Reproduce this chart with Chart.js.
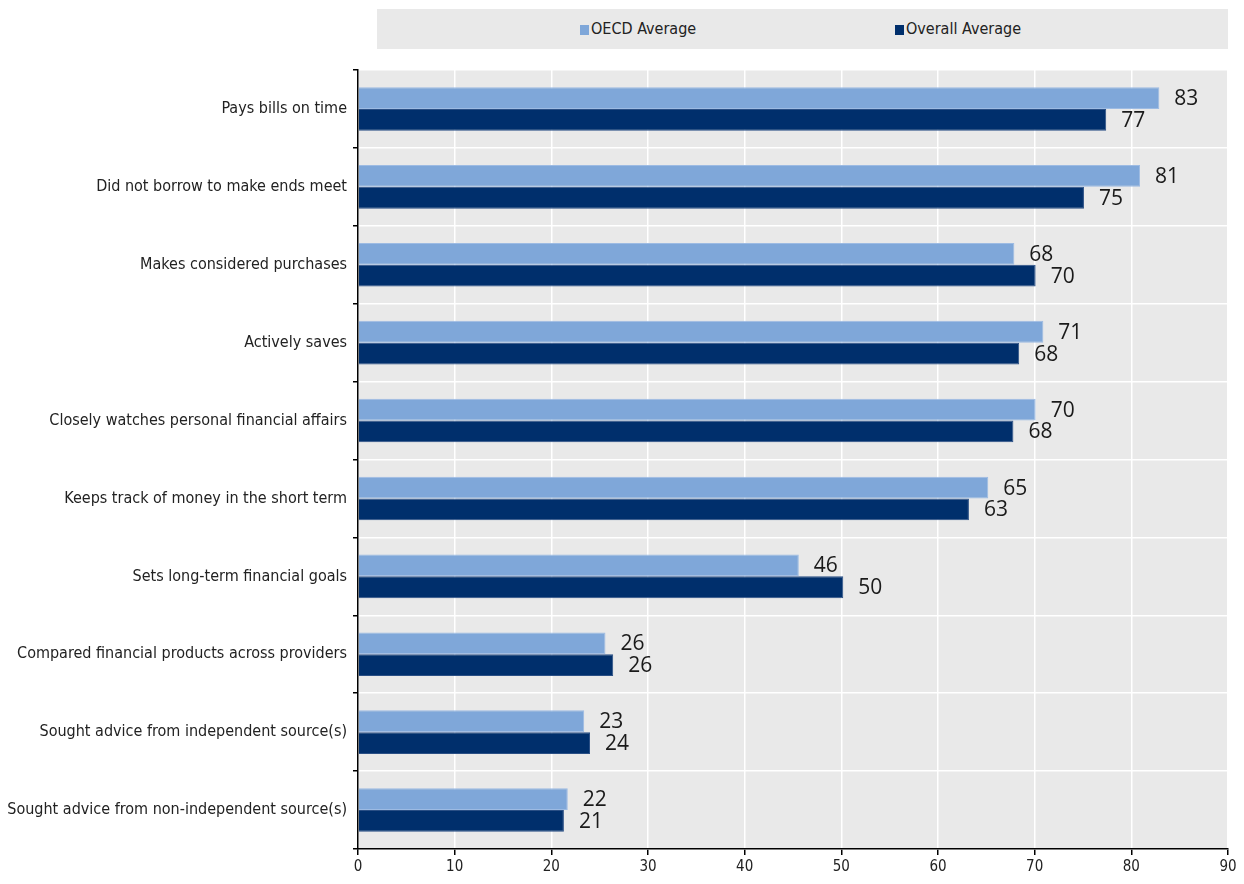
<!DOCTYPE html>
<html>
<head>
<meta charset="utf-8">
<script src="https://cdn.jsdelivr.net/npm/chart.js@4/dist/chart.umd.min.js"></script>
<style>
  body { margin: 0; background: #fff; }
  #wrap { position: relative; width: 1244px; height: 884px; }
  #legend {
    position: absolute; left: 377px; top: 9px; width: 851px; height: 40px;
    background: #e9e9e9; font-family: 'Liberation Sans Narrow', 'DejaVu Sans Condensed', sans-serif;
    font-size: 16px; color: #222;
  }
  .item { position: absolute; top: 11px; line-height: 18px; }
  .item span.box { display: inline-block; width: 9px; height: 10px; margin-right: 2px; vertical-align: -1px; }
</style>
</head>
<body>
<div id="wrap">
  <div id="legend"></div>
  <canvas id="chart" width="1244" height="884"></canvas>
</div>
<script>
// Data
var categories = [
  'Pays bills on time',
  'Did not borrow to make ends meet',
  'Makes considered purchases',
  'Actively saves',
  'Closely watches personal financial affairs',
  'Keeps track of money in the short term',
  'Sets long-term financial goals',
  'Compared financial products across providers',
  'Sought advice from independent source(s)',
  'Sought advice from non-independent source(s)'
];
var seriesNames = ['OECD Average', 'Overall Average'];
var oecdValues = [82.9, 80.9, 67.9, 70.9, 70.1, 65.2, 45.6, 25.6, 23.4, 21.7];
var overallValues = [77.4, 75.1, 70.1, 68.4, 67.8, 63.2, 50.2, 26.4, 24.0, 21.3];
var xTicks = [0, 10, 20, 30, 40, 50, 60, 70, 80, 90];

var LIGHTBLUE = '#7fa7d9';
var NAVY = '#002f6c';
var colors = [LIGHTBLUE, NAVY];

// Legend (html)
var legendLeft = [203, 518];
var legend = document.getElementById('legend');
seriesNames.forEach(function(name, i) {
  var d = document.createElement('div');
  d.className = 'item';
  d.style.left = legendLeft[i] + 'px';
  d.innerHTML = '<span class="box" style="background:' + colors[i] + '"></span>' + name;
  legend.appendChild(d);
});

var NARROW = "'Liberation Sans Narrow', 'DejaVu Sans Condensed', sans-serif";

// grey plot background
var plotBackground = {
  id: 'plotBackground',
  beforeDraw: function(chart) {
    var a = chart.chartArea, ctx = chart.ctx;
    ctx.save();
    ctx.fillStyle = '#e9e9e9';
    ctx.fillRect(a.left, a.top, a.right - a.left, a.bottom - a.top);
    ctx.restore();
  }
};

// value labels at bar ends
var valueLabels = {
  id: 'valueLabels',
  afterDatasetsDraw: function(chart) {
    var ctx = chart.ctx;
    ctx.save();
    ctx.font = "21px 'Open Sans', sans-serif";
    ctx.fillStyle = '#1a1a1a';
    ctx.textBaseline = 'middle';
    ctx.textAlign = 'left';
    chart.data.datasets.forEach(function(ds, i) {
      var meta = chart.getDatasetMeta(i);
      meta.data.forEach(function(bar, j) {
        ctx.fillText(Math.round(ds.data[j]), bar.x + 15, bar.y + 1);
      });
    });
    ctx.restore();
  }
};

new Chart(document.getElementById('chart'), {
  type: 'bar',
  data: {
    labels: categories,
    datasets: [{
      label: seriesNames[0],
      data: oecdValues,
      backgroundColor: LIGHTBLUE,
      borderColor: '#9dbbe3',
      borderWidth: 1,
      categoryPercentage: 0.56,
      barPercentage: 1.0
    }, {
      label: seriesNames[1],
      data: overallValues,
      backgroundColor: NAVY,
      borderColor: '#2a4f85',
      borderWidth: 1,
      categoryPercentage: 0.56,
      barPercentage: 1.0
    }]
  },
  options: {
    indexAxis: 'y',
    responsive: false,
    animation: false,
    layout: { padding: { top: 70, right: 16, left: 0, bottom: 0 } },
    plugins: {
      legend: { display: false },
      tooltip: { enabled: false }
    },
    scales: {
      x: {
        min: 0,
        max: 90,
        afterBuildTicks: function(axis) {
          axis.ticks = xTicks.map(function(v) { return { value: v }; });
        },
        afterFit: function(axis) { axis.height = 35; },
        grid: { color: '#ffffff', lineWidth: 1.5, tickColor: '#000', tickLength: 6 },
        border: { color: '#000', width: 1.5 },
        ticks: { color: '#222', font: { family: NARROW, size: 15 }, padding: 3 }
      },
      y: {
        afterFit: function(axis) { axis.width = 358; },
        grid: { offset: true, color: '#ffffff', lineWidth: 1.5, tickColor: '#000', tickLength: 5 },
        border: { color: '#000', width: 1.5 },
        ticks: { color: '#222', font: { family: NARROW, size: 16 }, padding: 6 }
      }
    }
  },
  plugins: [plotBackground, valueLabels]
});
</script>
</body>
</html>
